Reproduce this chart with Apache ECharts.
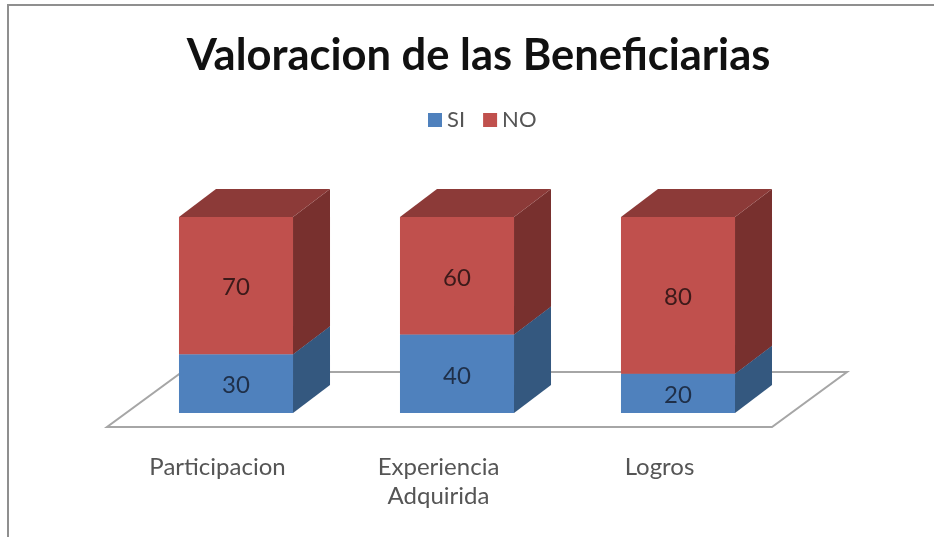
<!DOCTYPE html>
<html>
<head>
<meta charset="utf-8">
<style>html,body{margin:0;padding:0;background:#fff}#c{width:934px;height:537px;filter:blur(0.6px)}</style>
<script src="https://cdn.jsdelivr.net/npm/echarts@6/dist/echarts.min.js"></script>
</head>
<body>
<div id="c"></div>
<script>
const titleText = 'Valoracion de las Beneficiarias';
const categories = ['Participacion', 'Experiencia\nAdquirida', 'Logros'];
const siValues = [30, 40, 20];
const noValues = [70, 60, 80];
const yMax = 100;

const fontFamily = 'Lato, "Noto Sans", sans-serif';
const depthX = 37, depthY = 28;
const floorDepthX = 75, floorDepthY = 55;
const barRatio = 0.516;

function boxItem(colors) {
  return function (params, api) {
    const idx = api.value(0), low = api.value(1), val = api.value(2);
    const p0 = api.coord([idx, low]);
    const p1 = api.coord([idx, low + val]);
    const w = api.size([1, 0])[0] * barRatio;
    const shiftX = depthX / 2, shiftY = 14;
    const x0 = p0[0] + shiftX - w / 2, x1 = x0 + w;
    const yb = p0[1] - shiftY, yt = p1[1] - shiftY;
    const poly = (pts, fill) => ({ type: 'polygon', shape: { points: pts }, style: { fill: fill } });
    const children = [
      poly([[x1, yb], [x1 + depthX, yb - depthY], [x1 + depthX, yt - depthY], [x1, yt]], colors.side),
      poly([[x0, yt], [x1, yt], [x1 + depthX, yt - depthY], [x0 + depthX, yt - depthY]], colors.top),
      poly([[x0, yb], [x1, yb], [x1, yt], [x0, yt]], colors.front),
      { type: 'text', style: { x: (x0 + x1) / 2, y: (yb + yt) / 2 + 2, text: String(val), align: 'center',
        verticalAlign: 'middle', fill: colors.label, fontSize: 24, fontFamily: fontFamily } }
    ];
    return { type: 'group', children: children };
  };
}

function floorItem(params, api) {
  const cs = params.coordSys;
  const y = cs.y + cs.height, x0 = cs.x, x1 = cs.x + cs.width + 2;
  return { type: 'polygon', shape: { points: [[x0, y], [x1, y], [x1 + floorDepthX, y - floorDepthY], [x0 + floorDepthX, y - floorDepthY]] },
    style: { fill: '#ffffff', stroke: '#a6a6a6', lineWidth: 2 } };
}

const chart = echarts.init(document.getElementById('c'), null, { renderer: 'canvas' });
chart.setOption({
  animation: false,
  backgroundColor: '#ffffff',
  title: { text: titleText, left: 473.5, top: 29, textAlign: 'center',
    textStyle: { fontFamily: fontFamily, fontSize: 43.5, fontWeight: 'bold', color: '#111111' } },
  legend: { data: ['SI', 'NO'], left: 423, top: 104, itemWidth: 14, itemHeight: 14, itemGap: 18, icon: 'rect',
    textStyle: { fontFamily: fontFamily, fontSize: 22, color: '#555555' } },
  grid: { left: 107, top: 231, width: 663, height: 196 },
  xAxis: { type: 'category', data: categories,
    axisLine: { show: false }, axisTick: { show: false },
    axisLabel: { margin: 26, fontFamily: fontFamily, fontSize: 24, lineHeight: 29, color: '#555555' } },
  yAxis: { type: 'value', min: 0, max: yMax, show: false },
  series: [
    { type: 'custom', name: 'floor', silent: true, renderItem: floorItem, data: [[0, 0]], encode: { x: 0, y: 1 }, z: 1 },
    { type: 'custom', name: 'SI', itemStyle: { color: '#4f81bd' }, z: 2,
      renderItem: boxItem({ front: '#4f81bd', side: '#34587f', top: '#3f6797', label: '#1f2f48' }),
      encode: { x: 0, y: 2 },
      data: siValues.map((v, i) => [i, 0, v]) },
    { type: 'custom', name: 'NO', itemStyle: { color: '#c0504d' }, z: 3,
      renderItem: boxItem({ front: '#c0504d', side: '#78302e', top: '#8c3a38', label: '#3c1a1a' }),
      encode: { x: 0, y: 2 },
      data: noValues.map((v, i) => [i, siValues[i], v]) }
  ],
  graphic: [
    { type: 'polyline', silent: true, shape: { points: [[8, 537], [8, 5], [934, 5]] },
      style: { fill: 'none', stroke: '#8f8f8f', lineWidth: 2 } }
  ]
});
</script>
</body>
</html>
